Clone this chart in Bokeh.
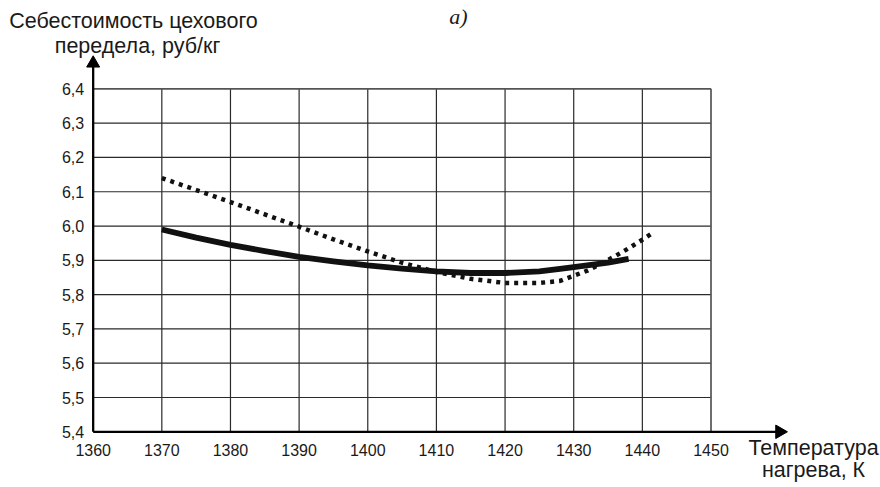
from bokeh.plotting import figure
from bokeh.models import Label, Range1d
from bokeh.core.properties import value
from bokeh.embed import file_html
from bokeh.resources import INLINE
import math

# ---- data ----
x_ticks = [1360, 1370, 1380, 1390, 1400, 1410, 1420, 1430, 1440, 1450]
y_ticks = [5.4, 5.5, 5.6, 5.7, 5.8, 5.9, 6.0, 6.1, 6.2, 6.3, 6.4]
x_tick_labels = ["1360", "1370", "1380", "1390", "1400", "1410", "1420", "1430", "1440", "1450"]
y_tick_labels = ["5,4", "5,5", "5,6", "5,7", "5,8", "5,9", "6,0", "6,1", "6,2", "6,3", "6,4"]

solid_x = [1370, 1375, 1380, 1385, 1390, 1395, 1400, 1405, 1410, 1415, 1420, 1425, 1428, 1430, 1435, 1438]
solid_y = [5.990, 5.966, 5.945, 5.927, 5.910, 5.897, 5.885, 5.876, 5.868, 5.863, 5.863, 5.868, 5.875, 5.880, 5.893, 5.904]

dotted_x = [1370, 1375, 1380, 1385, 1390, 1395, 1400, 1405, 1410, 1415, 1420, 1425, 1428, 1430, 1432, 1434, 1436, 1438, 1440, 1441.5]
dotted_y = [6.140, 6.105, 6.070, 6.034, 5.998, 5.961, 5.926, 5.893, 5.866, 5.846, 5.834, 5.834, 5.840, 5.855, 5.870, 5.890, 5.912, 5.935, 5.960, 5.980]

y_title = ["Себестоимость цехового", "передела, руб/кг"]
x_title = ["Температура", "нагрева, К"]
panel_mark = "а)"

FONT = "Liberation Sans"
TXT = "#1a1a1a"

x0, x1 = x_ticks[0], x_ticks[-1]
y0, y1 = y_ticks[0], y_ticks[-1]

# the plotting frame spans the whole canvas so that every text stays inside it
p = figure(width=880, height=487, output_backend="svg", toolbar_location=None,
           x_axis_type=None, y_axis_type=None,
           x_range=Range1d(1346.50, 1474.69), y_range=Range1d(5.2376, 6.6576),
           min_border_left=0, min_border_right=0, min_border_top=0, min_border_bottom=0)
p.title.visible = False
p.background_fill_color = "white"
p.border_fill_color = "white"
p.outline_line_color = None
p.xgrid.visible = False
p.ygrid.visible = False

# grid inside the labelled box
inner_x = x_ticks[1:-1]
inner_y = y_ticks[1:-1]
p.segment(x0=inner_x, y0=[y0] * len(inner_x), x1=inner_x, y1=[y1] * len(inner_x),
          line_color="#2a2a2a", line_width=1.2)
p.segment(x0=[x0] * len(inner_y), y0=inner_y, x1=[x1] * len(inner_y), y1=inner_y,
          line_color="#2a2a2a", line_width=1.2)
# top and right borders
p.segment(x0=[x0, x1], y0=[y1, y0], x1=[x1, x1], y1=[y1, y1], line_color="#555555", line_width=1.7)

# curves
p.line(dotted_x, dotted_y, line_color="#111111", line_width=4.5, line_dash="4 5")
p.line(solid_x, solid_y, line_color="#111111", line_width=5.8, line_join="round")

# axis lines with arrow heads
p.segment(x0=[x0, x0], y0=[y0, y0], x1=[x0, x1 + 9.5], y1=[y1 + 0.075, y0],
          line_color="black", line_width=2.3)
p.scatter(x=[x0], y=[y1 + 0.0745], marker="triangle", size=13,
          fill_color="black", line_color="black")
p.scatter(x=[x1 + 10.0], y=[y0], marker="triangle", size=13.5, angle=-math.pi / 2,
          fill_color="black", line_color="black")

# tick labels
p.text(x=x_ticks, y=[y0] * len(x_ticks), text=x_tick_labels, y_offset=12,
       text_align="center", text_baseline="top", text_font=value(FONT),
       text_font_size="16px", text_color=TXT)
p.text(x=[x0] * len(y_ticks), y=y_ticks, text=y_tick_labels, x_offset=-9,
       text_align="right", text_baseline="middle", text_font=value(FONT),
       text_font_size="16px", text_color=TXT)

# titles
TS = "21.5px"
p.add_layout(Label(x=1365.87, y=6.599, text=y_title[0], text_align="center", text_baseline="middle",
                   text_font=FONT, text_font_size=TS, text_color=TXT))
p.add_layout(Label(x=1366.46, y=6.526, text=y_title[1], text_align="center", text_baseline="middle",
                   text_font=FONT, text_font_size=TS, text_color=TXT))
p.add_layout(Label(x=1464.93, y=5.3514, text=x_title[0], text_align="center", text_baseline="middle",
                   text_font=FONT, text_font_size=TS, text_color=TXT))
p.add_layout(Label(x=1464.93, y=5.2873, text=x_title[1], text_align="center", text_baseline="middle",
                   text_font=FONT, text_font_size=TS, text_color=TXT))
p.add_layout(Label(x=1413.2, y=6.612, text=panel_mark, text_align="center", text_baseline="alphabetic",
                   text_font="Liberation Serif", text_font_style="italic", text_font_size="22px",
                   text_color=TXT))

open("out.html", "w").write(file_html(p, INLINE))
